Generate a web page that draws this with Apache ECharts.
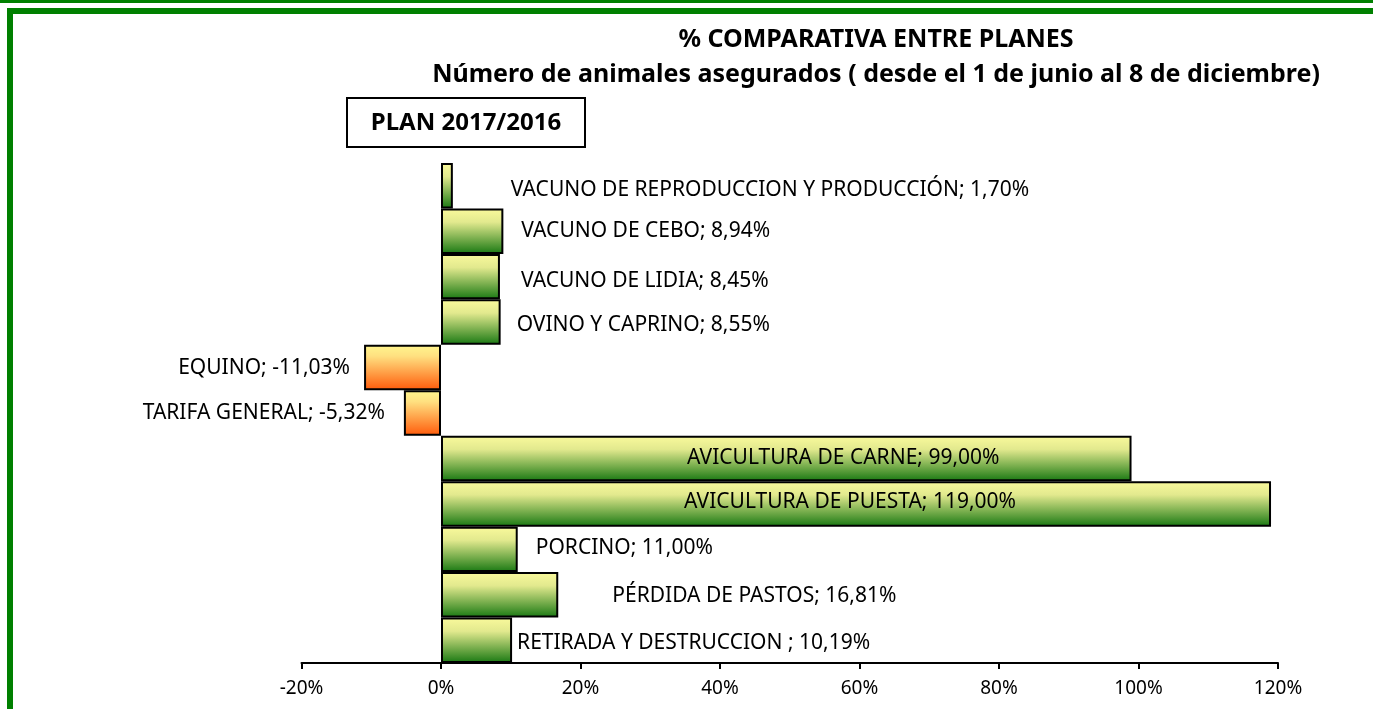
<!DOCTYPE html>
<html>
<head>
<meta charset="utf-8">
<script src="https://cdn.jsdelivr.net/npm/echarts@6/dist/echarts.min.js"></script>
<style>
html,body{margin:0;padding:0;background:#fff;}
#chart{width:1373px;height:709px;}
</style>
</head>
<body>
<div id="chart"></div>
<script>
// ---- data ----
const categories = [
  'VACUNO DE REPRODUCCION Y PRODUCCIÓN',
  'VACUNO DE CEBO',
  'VACUNO DE LIDIA',
  'OVINO Y CAPRINO',
  'EQUINO',
  'TARIFA GENERAL',
  'AVICULTURA DE CARNE',
  'AVICULTURA DE PUESTA',
  'PORCINO',
  'PÉRDIDA DE PASTOS',
  'RETIRADA Y DESTRUCCION '
];
const values = [1.70, 8.94, 8.45, 8.55, -11.03, -5.32, 99.00, 119.00, 11.00, 16.81, 10.19];
const xTicks = [-20, 0, 20, 40, 60, 80, 100, 120];
const titleLine1 = '% COMPARATIVA ENTRE PLANES';
const titleLine2 = 'Número de animales asegurados ( desde el 1 de junio al 8 de diciembre)';
const planLabel = 'PLAN 2017/2016';

// ---- label placement (layout only) ----
const labelPlacement = [
  {position: 'right', distance: 58, offset: [0, 4]},
  {position: 'right', distance: 18, offset: [0, 0]},
  {position: 'right', distance: 21, offset: [0, 4]},
  {position: 'right', distance: 16, offset: [0, 3]},
  {position: 'left',  distance: 14, offset: [0, 0]},
  {position: 'left',  distance: 19, offset: [0, 0]},
  {position: 'inside', distance: 0, offset: [57, 0]},
  {position: 'inside', distance: 0, offset: [-6, -2]},
  {position: 'right', distance: 18, offset: [0, -1]},
  {position: 'right', distance: 54, offset: [0, 1]},
  {position: 'right', distance: 5,  offset: [0, 3]}
];

const FONT = '"Noto Sans", sans-serif';
const fmt = v => v.toFixed(2).replace('.', ',') + '%';

const posGrad = {type: 'linear', x: 0, y: 0, x2: 0, y2: 1, colorStops: [
  {offset: 0, color: '#fafa9c'}, {offset: 0.3, color: '#e2e98e'}, {offset: 1, color: '#187812'}]};
const negGrad = {type: 'linear', x: 0, y: 0, x2: 0, y2: 1, colorStops: [
  {offset: 0, color: '#fff68e'}, {offset: 0.25, color: '#ffe080'}, {offset: 1, color: '#ff5a0a'}]};

const seriesData = values.map((v, i) => ({
  value: v,
  name: categories[i],
  itemStyle: {color: v < 0 ? negGrad : posGrad},
  label: Object.assign({}, labelPlacement[i])
}));

const chart = echarts.init(document.getElementById('chart'), null, {renderer: 'canvas'});
chart.setOption({
  animation: false,
  backgroundColor: '#ffffff',
  title: [
    {text: titleLine1, left: 871, top: 22, textAlign: 'center',
     textStyle: {fontFamily: FONT, fontWeight: 'bold', fontSize: 25, color: '#000'}},
    {text: titleLine2, left: 871, top: 57, textAlign: 'center',
     textStyle: {fontFamily: FONT, fontWeight: 'bold', fontSize: 25, color: '#000'}}
  ],
  grid: {left: 301.5, right: 95, top: 163, bottom: 46, containLabel: false},
  xAxis: {
    type: 'value', min: xTicks[0], max: xTicks[xTicks.length - 1], interval: 20,
    axisLine: {show: true, lineStyle: {color: '#000', width: 2}},
    axisTick: {show: true, length: 6, lineStyle: {color: '#000', width: 2}},
    splitLine: {show: false},
    axisLabel: {formatter: '{value}%', fontFamily: FONT, fontSize: 19, color: '#000', margin: 16}
  },
  yAxis: {
    type: 'category', data: categories, inverse: true,
    axisLine: {show: false}, axisTick: {show: false}, axisLabel: {show: false}
  },
  series: [{
    type: 'bar',
    data: seriesData,
    barCategoryGap: '0%',
    itemStyle: {borderColor: '#000', borderWidth: 2},
    label: {
      show: true,
      fontFamily: FONT, fontSize: 21, color: '#000',
      formatter: p => p.name + '; ' + fmt(p.value)
    }
  }],
  graphic: [
    {type: 'rect', shape: {x: 0, y: 0, width: 1373, height: 3}, style: {fill: '#008000'}, silent: true},
    {type: 'rect', shape: {x: 7, y: 8, width: 1366, height: 6}, style: {fill: '#008000'}, silent: true},
    {type: 'rect', shape: {x: 7, y: 8, width: 6, height: 701}, style: {fill: '#008000'}, silent: true},
    {type: 'rect', shape: {x: 347, y: 98, width: 238, height: 49},
     style: {fill: '#fff', stroke: '#000', lineWidth: 2}, silent: true},
    {type: 'text', x: 466, y: 123,
     style: {text: planLabel, fontFamily: FONT, fontWeight: 'bold', fontSize: 24, fill: '#000',
             textAlign: 'center', textVerticalAlign: 'middle'}, silent: true}
  ]
});
</script>
</body>
</html>
